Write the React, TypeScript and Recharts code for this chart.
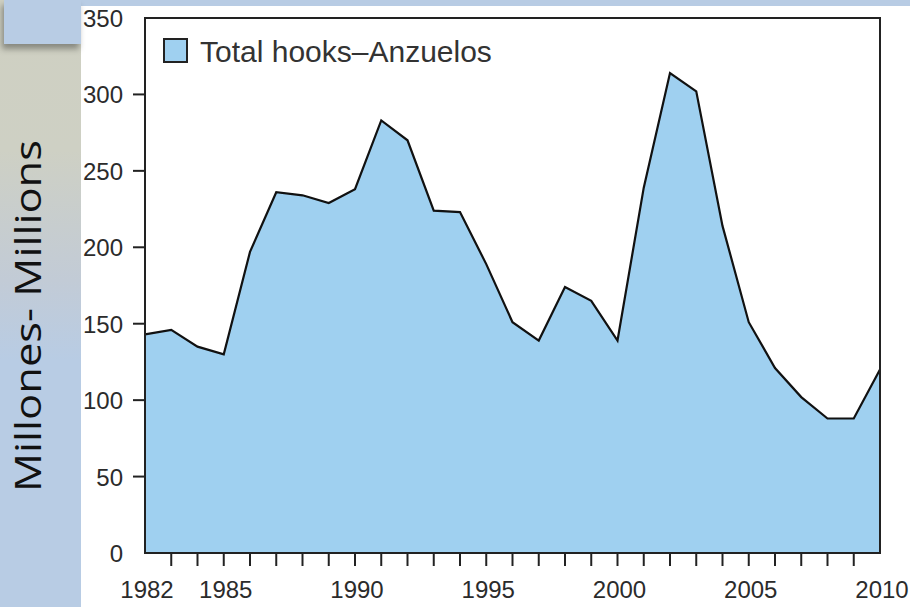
import { AreaChart, Area, XAxis, YAxis, Legend, ReferenceArea } from 'recharts';

// yearly totals, millions of hooks
const years = [
  1982, 1983, 1984, 1985, 1986, 1987, 1988, 1989, 1990, 1991,
  1992, 1993, 1994, 1995, 1996, 1997, 1998, 1999, 2000, 2001,
  2002, 2003, 2004, 2005, 2006, 2007, 2008, 2009, 2010,
];
const hooks = [
  143, 146, 135, 130, 197, 236, 234, 229, 238, 283,
  270, 224, 223, 189, 151, 139, 174, 165, 139, 239,
  314, 302, 214, 151, 121, 102, 88, 88, 120,
];
const yearLabels = [1982, 1985, 1990, 1995, 2000, 2005, 2010];
const yTicks = [0, 50, 100, 150, 200, 250, 300, 350];
const seriesName = 'Total hooks–Anzuelos';
const axisTitle = 'Millones- Millions';

const data = years.map((year, i) => ({ year, hooks: hooks[i] }));

const FILL = '#9fd0f0';
const INK = '#222';
const TEXT = '#2b2b2b';
const FONT = '"Liberation Sans", Arial, sans-serif';

function XTick(props: any) {
  const { x, y, payload } = props;
  const v = payload.value;
  const first = years[0];
  const last = years[years.length - 1];
  return (
    <g>
      {v !== first && v !== last && (
        <line x1={x} x2={x} y1={y} y2={y + 13} stroke={INK} strokeWidth={2} />
      )}
      {yearLabels.includes(v) && (
        <text x={x + 2} y={y + 45} textAnchor="middle" fontFamily={FONT} fontSize={24} fill={TEXT}>
          {v}
        </text>
      )}
    </g>
  );
}

function YTick(props: any) {
  const { x, y, payload } = props;
  const v = payload.value;
  const withLine = v !== yTicks[0] && v !== yTicks[yTicks.length - 1];
  return (
    <g>
      {withLine && <line x1={x - 12} x2={x} y1={y} y2={y} stroke={INK} strokeWidth={2} />}
      <text x={x - 22} y={y + 9} textAnchor="end" fontFamily={FONT} fontSize={24} fill={TEXT}>
        {v}
      </text>
    </g>
  );
}

function renderTitle() {
  return (
    <text
      x={0}
      y={0}
      transform="translate(41,316) rotate(-90)"
      textAnchor="middle"
      fontFamily='"Open Sans", sans-serif'
      fontSize={36}
      fill="#111"
      textLength={352}
      lengthAdjust="spacingAndGlyphs"
    >
      {axisTitle}
    </text>
  );
}

function renderLegend() {
  return (
    <div style={{ position: 'relative', width: 910, height: 0 }}>
      <div
        style={{
          position: 'absolute',
          left: 163,
          top: 38,
          width: 25,
          height: 25,
          boxSizing: 'border-box',
          background: FILL,
          border: `2px solid ${INK}`,
        }}
      />
      <div
        style={{
          position: 'absolute',
          left: 200,
          top: 37,
          fontFamily: FONT,
          fontSize: 30,
          lineHeight: '30px',
          color: '#333',
          whiteSpace: 'nowrap',
        }}
      >
        {seriesName}
      </div>
    </div>
  );
}

export default function App() {
  return (
    <div
      style={{
        position: 'absolute',
        left: 0,
        top: 0,
        width: 910,
        height: 607,
        background: '#fff',
        overflow: 'hidden',
      }}
    >
      <div style={{ position: 'absolute', left: 0, top: 0, width: 910, height: 6, background: '#b8cce4' }} />
      <div
        style={{
          position: 'absolute',
          left: 0,
          top: 0,
          width: 81,
          height: 607,
          background: 'linear-gradient(to bottom, #cfd0c2 0px, #ced0c4 150px, #c2cbd6 280px, #b8cce4 360px, #b8cce4 607px)',
        }}
      />
      <div
        style={{
          position: 'absolute',
          left: 4,
          top: 0,
          width: 77,
          height: 44,
          background: '#b8cce4',
          boxShadow: '-2px 5px 6px rgba(0,0,0,0.35)',
        }}
      />
      <div style={{ position: 'absolute', left: 0, top: 0 }}>
        <AreaChart width={910} height={607} data={data} margin={{ top: 18, right: 30, bottom: 24, left: 85 }}>
          <Area
            dataKey="hooks"
            name={seriesName}
            type="linear"
            fill={FILL}
            fillOpacity={1}
            stroke="#111"
            strokeWidth={2.2}
            isAnimationActive={false}
          />
          <ReferenceArea
            x1={years[0]}
            x2={years[years.length - 1]}
            y1={yTicks[0]}
            y2={yTicks[yTicks.length - 1]}
            fill="none"
            fillOpacity={0}
            stroke={INK}
            strokeWidth={2}
          />
          <XAxis
            dataKey="year"
            type="number"
            domain={[years[0], years[years.length - 1]]}
            ticks={years}
            interval={0}
            tickSize={0}
            tickMargin={0}
            tick={XTick}
            tickLine={false}
            axisLine={{ stroke: INK, strokeWidth: 2 }}
            height={30}
          />
          <YAxis
            type="number"
            domain={[0, 350]}
            ticks={yTicks}
            interval={0}
            tickSize={0}
            tickMargin={0}
            tick={YTick}
            tickLine={false}
            axisLine={{ stroke: INK, strokeWidth: 2 }}
            width={60}
            label={{ value: axisTitle, content: renderTitle }}
          />
          <Legend content={renderLegend} wrapperStyle={{ position: 'absolute', top: 0, left: 0, width: 910, height: 0 }} />
        </AreaChart>
      </div>
    </div>
  );
}
